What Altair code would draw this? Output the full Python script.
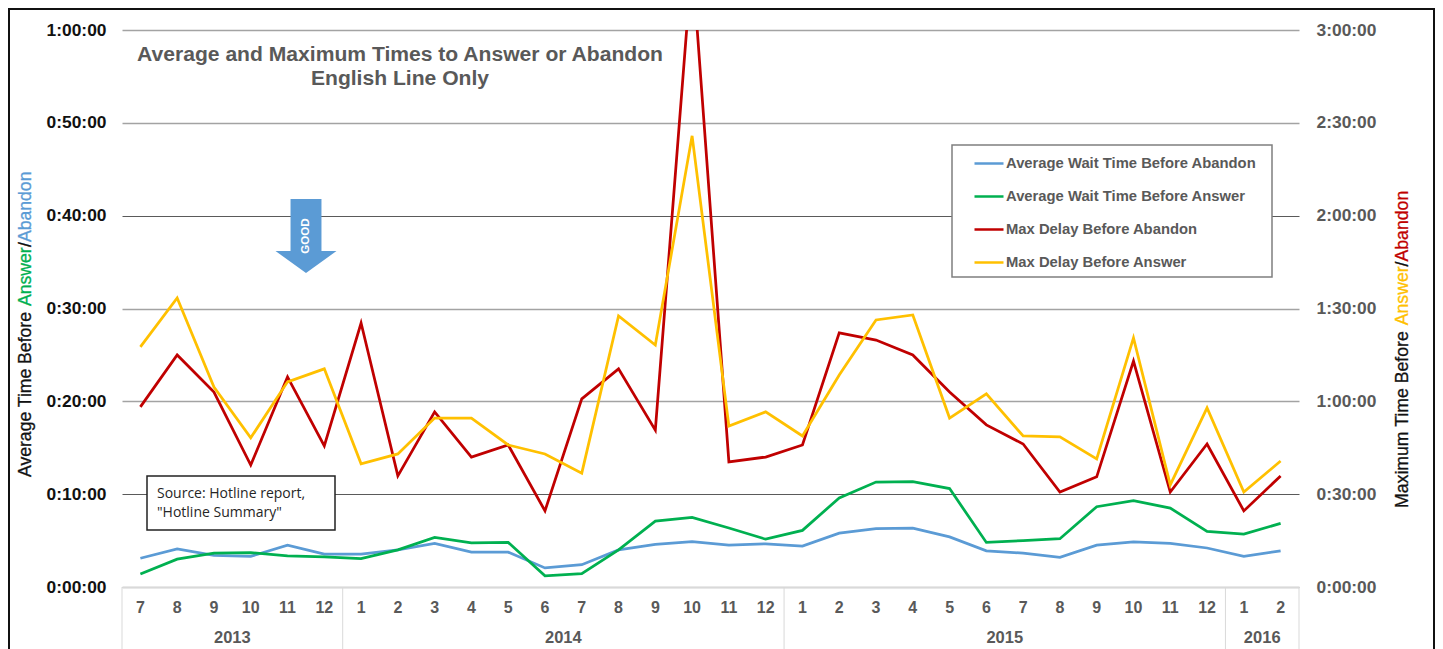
import altair as alt
import pandas as pd

years = [2013]*6 + [2014]*12 + [2015]*12 + [2016]*2
months = [7,8,9,10,11,12] + list(range(1,13)) + list(range(1,13)) + [1,2]
periods = [f"{y}-{m}" for y, m in zip(years, months)]

avg_abandon = [3.1,4.1,3.4,3.3,4.5,3.55,3.55,4.0,4.7,3.75,3.75,2.05,2.4,4.0,4.6,4.9,4.5,4.65,4.4,5.8,6.3,6.35,5.4,3.9,3.65,3.2,4.5,4.85,4.7,4.2,3.3,3.9]
avg_answer = [1.4,3.0,3.65,3.7,3.35,3.25,3.05,4.0,5.35,4.75,4.8,1.2,1.45,4.0,7.1,7.5,6.35,5.15,6.1,9.6,11.3,11.35,10.6,4.8,5.0,5.2,8.65,9.3,8.5,6.0,5.7,6.85]
max_abandon = [58.2,75,63,39.4,67.9,45.6,85.3,35.9,56.6,42,45.9,24.6,60.8,70.5,50.7,202.6,40.4,42,45.9,82.1,79.8,75,63,52.4,46.2,30.7,35.6,73,30.7,46.2,24.6,35.9]
max_answer = [77.6,93.4,64.6,48.2,66.3,70.5,39.8,43,54.6,54.6,45.9,43,36.8,87.6,78.2,145.8,52,56.6,48.8,68.5,86.3,87.9,54.6,62.4,48.8,48.5,41.4,80.5,33,57.9,30.7,40.7]

names = ["Average Wait Time Before Abandon", "Average Wait Time Before Answer",
         "Max Delay Before Abandon", "Max Delay Before Answer"]
colors = ["#5b9bd5", "#00b050", "#c00000", "#ffc000"]

left_ticks = [0,10,20,30,40,50,60]
right_ticks = [0,30,60,90,120,150,180]
year_labels = [("2013","2013-9"),("2014","2014-6"),("2015","2015-6"),("2016","2016-1")]
year_starts = ["2013-7","2014-1","2015-1","2016-1"]

FONT = "Liberation Sans"
GRAY = "#595959"
hms = "floor(datum.value/60)+':'+(datum.value%60<10?'0':'')+(datum.value%60)+':00'"

rows = []
for p, a, b, c, d in zip(periods, avg_abandon, avg_answer, max_abandon, max_answer):
    rows += [{"period": p, "series": names[0], "v": a}, {"period": p, "series": names[1], "v": b},
             {"period": p, "series": names[2], "v": c}, {"period": p, "series": names[3], "v": d}]
df = pd.DataFrame(rows)

xscale = alt.Scale(domain=periods, paddingInner=0, paddingOuter=0)
xaxis = alt.Axis(title=None, labelAngle=0, labelExpr="split(datum.label,'-')[1]",
                 labelFont=FONT, labelFontWeight="bold", labelFontSize=16, labelColor=GRAY,
                 labelPadding=12, ticks=False, domainColor="#d9d9d9", grid=False, labelOverlap=False)
def xpos(field, band):
    return alt.X(field, sort=periods, scale=xscale, bandPosition=band, axis=xaxis)

color = alt.Color("series:N", scale=alt.Scale(domain=names, range=colors),
                  legend=alt.Legend(title=None, orient="none", legendX=830, legendY=117,
                                    padding=9, symbolType="stroke", symbolSize=841, symbolStrokeWidth=2.5,
                                    symbolOffset=12, labelFont=FONT, labelFontWeight="bold",
                                    labelFontSize=14.8, labelColor=GRAY, labelOffset=1,
                                    labelLimit=400, rowPadding=17, clipHeight=15))

left = alt.Chart(df[df.series.isin(names[:2])]).mark_line(strokeWidth=2.75, clip=True).encode(
    x=xpos("period:N", 0.5),
    y=alt.Y("v:Q", scale=alt.Scale(domain=[0,60]),
            axis=alt.Axis(title=None, values=left_ticks, orient="left", labelExpr=hms, labelFont=FONT,
                          labelFontWeight="bold", labelFontSize=17.4, labelColor="#111111",
                          labelPadding=16, ticks=False, domain=False, grid=True,
                          gridColor={"condition": {"test": "datum.value==40 || datum.value==10", "value": "#5a5a5a"}, "value": "#a3a3a3"},
                          gridWidth={"condition": {"test": "datum.value==40 || datum.value==10", "value": 1}, "value": 1.5})),
    color=color)

right = alt.Chart(df[df.series.isin(names[2:])]).mark_line(strokeWidth=2.75, clip=True).encode(
    x=xpos("period:N", 0.5),
    y=alt.Y("v:Q", scale=alt.Scale(domain=[0,180]),
            axis=alt.Axis(title=None, values=right_ticks, orient="right", labelExpr=hms, labelFont=FONT,
                          labelFontWeight="bold", labelFontSize=17.4, labelColor=GRAY,
                          labelPadding=17, ticks=False, domain=False, grid=False)),
    color=color)

lines = alt.layer(left, right).resolve_scale(y="independent")

# Multi-level axis furniture
sep = alt.Chart(pd.DataFrame({"period": year_starts})).mark_rule(color="#d9d9d9", strokeWidth=1, clip=False).encode(
    x=xpos("period:N", 0), y=alt.value(557), y2=alt.value(619))
sep_end = alt.Chart(pd.DataFrame({"period": ["2016-2"]})).mark_rule(color="#d9d9d9", strokeWidth=1).encode(
    x=xpos("period:N", 1), y=alt.value(557), y2=alt.value(619))
yrs = alt.Chart(pd.DataFrame(year_labels, columns=["label","period"])).mark_text(
    font=FONT, fontWeight="bold", fontSize=16.5, color=GRAY, baseline="middle").encode(
    x=xpos("period:N", 1), y=alt.value(608), text="label:N")

def label(txt, x, y, **kw):
    return alt.Chart(pd.DataFrame({"t": [txt]})).mark_text(**kw).encode(
        x=alt.value(x), y=alt.value(y), text="t:N")

title1 = label("Average and Maximum Times to Answer or Abandon", 278, 25, font=FONT, fontWeight="bold", fontSize=21.1, color=GRAY, baseline="middle")
title2 = label("English Line Only", 278, 49, font=FONT, fontWeight="bold", fontSize=21.1, color=GRAY, baseline="middle")

arrow_path = "M-.209,-.5 L.209,-.5 L.209,.203 L.412,.203 L0,.5 L-.412,.203 L-.209,.203 Z"
arrow = alt.Chart(pd.DataFrame({"a": [1]})).mark_point(shape=arrow_path, size=21904, filled=True, color="#5b9bd5", opacity=1).encode(
    x=alt.value(184), y=alt.value(206))
good = label("GOOD", 184, 206, font=FONT, fontWeight="bold", fontSize=11.6, color="white", angle=270, baseline="middle", align="center")

source_box = alt.Chart(pd.DataFrame({"a": [1]})).mark_rect(fill="white", stroke="#222222", strokeWidth=1.5).encode(
    x=alt.value(25), x2=alt.value(213), y=alt.value(446), y2=alt.value(500))
src1 = label("Source: Hotline report,", 35, 464, font="Open Sans", fontSize=14, color="#262626", align="left", baseline="middle")
src2 = label('"Hotline Summary"', 35, 483, font="Open Sans", fontSize=14, color="#262626", align="left", baseline="middle")

legend_box = alt.Chart(pd.DataFrame({"a": [1]})).mark_rect(fill="white", stroke="#7f7f7f", strokeWidth=1.5).encode(
    x=alt.value(830), x2=alt.value(1150), y=alt.value(115), y2=alt.value(247))

# Axis titles in several colours
def vtitle(parts, x, size):
    out = []
    for t, c, y in parts:
        out.append(label(t, x, y, font=FONT, fontSize=size, color=c, stroke=c, strokeWidth=0.3,
                         angle=270, align="left", baseline="middle"))
    return out

lt = vtitle([("Average Time Before", "#111111", 447), ("Answer", "#00b050", 276), ("/", "#111111", 217), ("Abandon", "#5b9bd5", 212)], -96, 17.6)
rt = vtitle([("Maximum Time Before", "#111111", 478), ("Answer", "#ffc000", 295.3), ("/", "#111111", 236.4), ("Abandon", "#c00000", 231.5)], 1281, 17.68)

frame = [
    alt.Chart(pd.DataFrame({"a": [1]})).mark_rule(color="#111111", strokeWidth=2).encode(x=alt.value(-113), y=alt.value(-22), y2=alt.value(619)),
    alt.Chart(pd.DataFrame({"a": [1]})).mark_rule(color="#111111", strokeWidth=2).encode(x=alt.value(-114), x2=alt.value(1313), y=alt.value(-21)),
    alt.Chart(pd.DataFrame({"a": [1]})).mark_rule(color="#111111", strokeWidth=2).encode(x=alt.value(1312), y=alt.value(-22), y2=alt.value(619)),
]

chart = alt.layer(lines, sep, sep_end, yrs, title1, title2, arrow, good, source_box, src1, src2, legend_box, *lt, *rt, *frame).resolve_scale(
    y="independent"
).properties(width=1177, height=557, autosize=alt.AutoSizeParams(type="none"),
             padding={"left": 114, "top": 22, "right": 136, "bottom": 62}
).configure_view(stroke=None)

chart.save("out.html", embed_options={"renderer": "svg", "actions": False})
